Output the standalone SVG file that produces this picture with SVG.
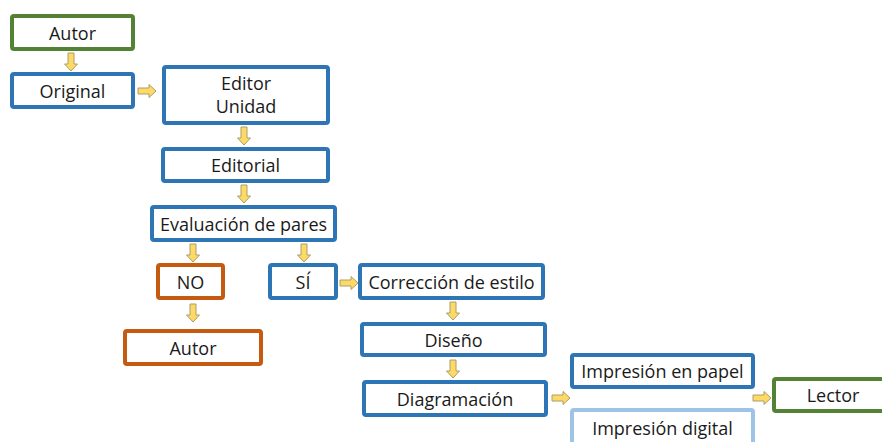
<svg xmlns="http://www.w3.org/2000/svg" xmlns:xlink="http://www.w3.org/1999/xlink" width="882" height="442" viewBox="0 0 882 442">
<defs>
<style>
.box{fill:#fff;stroke-width:4;}
.g{stroke:#548235;}
.b{stroke:#2e75b6;}
.o{stroke:#c55a11;}
.lb{stroke:#9dc3e6;}
text{font-family:"Open Sans","Noto Sans","Liberation Sans",sans-serif;font-size:18px;fill:#1a1a1a;text-anchor:middle;dominant-baseline:central;}
.arr{fill:#ffd966;stroke:#a89f6a;stroke-width:1;}
</style>
<path id="ad" class="arr" d="M-3,0 H3 V11 H6.5 L0,18 L-6.5,11 H-3 Z"/>
<path id="ar" class="arr" d="M0,-3 H11 V-6.5 L18,0 L11,6.5 V3 H0 Z"/>
</defs>
<rect width="882" height="442" fill="#fff"/>
<g id="connectors">
<use xlink:href="#ad" x="71" y="53"/>
<use xlink:href="#ar" x="138" y="91"/>
<use xlink:href="#ad" x="244" y="127"/>
<use xlink:href="#ad" x="244" y="185"/>
<use xlink:href="#ad" x="193" y="244"/>
<use xlink:href="#ad" x="304" y="244"/>
<use xlink:href="#ar" x="340" y="283"/>
<use xlink:href="#ad" x="193" y="304"/>
<use xlink:href="#ad" x="453" y="302"/>
<use xlink:href="#ad" x="453" y="360"/>
<use xlink:href="#ar" x="552" y="398"/>
<use xlink:href="#ar" x="753" y="398"/>
</g>
<g id="autor1"><rect class="box g" x="12" y="16" width="121" height="33" rx="2"/><text x="72.5" y="32.5">Autor</text></g>
<g id="original"><rect class="box b" x="12" y="74" width="121" height="33" rx="2"/><text x="72.5" y="90.5">Original</text></g>
<g id="editor"><rect class="box b" x="164" y="67" width="164" height="56" rx="2"/><text x="246" y="83">Editor</text><text x="246" y="106">Unidad</text></g>
<g id="editorial"><rect class="box b" x="163" y="149" width="165" height="32" rx="2"/><text x="245.5" y="165">Editorial</text></g>
<g id="evaluacion"><rect class="box b" x="152" y="207" width="183" height="33" rx="2"/><text x="243.5" y="223.5">Evaluación de pares</text></g>
<g id="no"><rect class="box o" x="158" y="265" width="65" height="33" rx="2"/><text x="190.5" y="281.5">NO</text></g>
<g id="si"><rect class="box b" x="270" y="265" width="66" height="33" rx="2"/><text x="303" y="281.5">SÍ</text></g>
<g id="correccion"><rect class="box b" x="360" y="265" width="183" height="33" rx="2"/><text x="451.5" y="281.5">Corrección de estilo</text></g>
<g id="autor2"><rect class="box o" x="125" y="331" width="136" height="33" rx="2"/><text x="193" y="347.5">Autor</text></g>
<g id="diseno"><rect class="box b" x="362" y="324" width="183" height="31" rx="2"/><text x="453.5" y="339.5">Diseño</text></g>
<g id="diagramacion"><rect class="box b" x="364" y="382" width="182" height="33" rx="2"/><text x="455" y="398.5">Diagramación</text></g>
<g id="papel"><rect class="box b" x="572" y="355" width="181" height="32" rx="2"/><text x="662.5" y="371">Impresión en papel</text></g>
<g id="digital"><rect class="box lb" x="572" y="410" width="181" height="40" rx="2"/><text x="662.5" y="428">Impresión digital</text></g>
<g id="lector"><rect class="box g" x="774" y="379" width="120" height="32" rx="2"/><text x="833" y="395">Lector</text></g>
</svg>
